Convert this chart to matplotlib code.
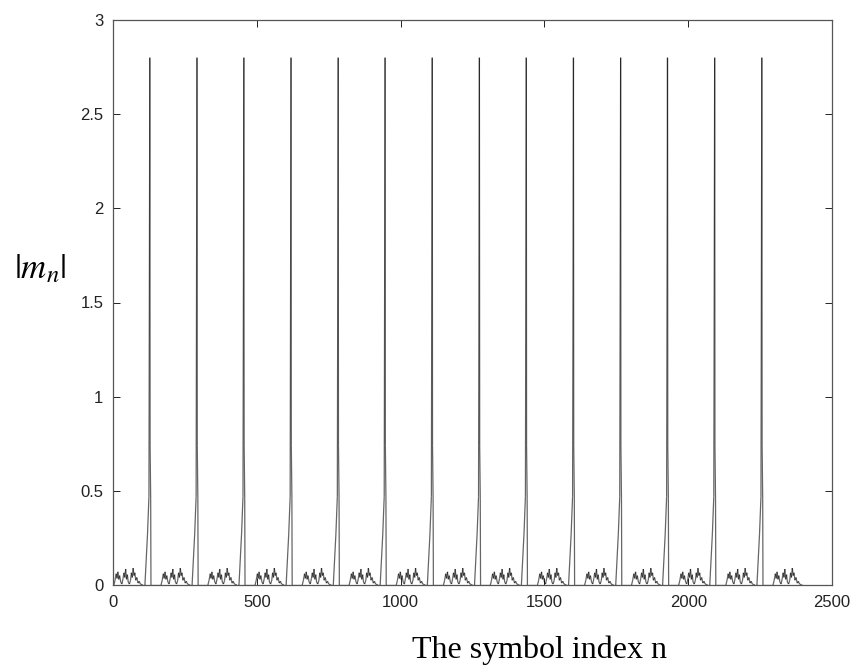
import numpy as np
import matplotlib
matplotlib.use("Agg")
import matplotlib.pyplot as plt
from matplotlib.collections import LineCollection

plt.rcParams["mathtext.fontset"] = "stix"

# start of each noise burst (symbol index)
cluster_starts = [3, 167, 330, 494, 658, 821, 985, 1149, 1312, 1476, 1640, 1803, 1967, 2131, 2295]
# shape of one noise burst: offset from start, |m_n|
burst_dn = [0, 4, 8, 11, 14, 17, 20, 24, 28, 32, 35, 38, 41, 44, 47, 50, 54, 58, 61, 64, 67, 70, 73, 76, 80, 84, 88, 92, 101]
burst_val = [0.0, 0.025, 0.06, 0.035, 0.07, 0.03, 0.05, 0.015, 0.005, 0.035, 0.065, 0.04, 0.085, 0.03, 0.055, 0.015,
             0.005, 0.025, 0.065, 0.04, 0.09, 0.05, 0.065, 0.025, 0.04, 0.01, 0.02, 0.005, 0.0]
# peak following each burst: offset from burst start, values (second peak value varies)
spike_dn = [108, 117, 122, 125, 125.5, 126, 128, 129]
spike_top = 2.8
spike_second = [2.35, 2.35, 1.70, 1.70, 1.70, 1.88, 1.88, 1.88, 1.88, 1.88, 2.35, 2.35, 2.35, 2.35]
spike_ramp = [0.0, 0.27, 0.47]
spike_tail = [0.74, 0.46, 0.0]
n_end = 2400

n, m = [0], [0.0]
for i, c in enumerate(cluster_starts):
    n += [c + d for d in burst_dn]
    m += burst_val
    if i < len(spike_second):
        n += [c + d for d in spike_dn]
        m += spike_ramp + [spike_top, spike_second[i]] + spike_tail
n.append(n_end); m.append(0.0)

fig = plt.figure(figsize=(8.51, 6.70), dpi=100)
ax = fig.add_axes([113/851, 1 - 585/670, 719/851, 565/670])

# draw each segment separately so retraced parts come out darker
pts = np.column_stack([n, m])
segs = np.stack([pts[:-1], pts[1:]], axis=1)
ax.add_collection(LineCollection(segs, colors="black", alpha=0.6, linewidths=0.9))

ax.set_xlim(0, 2500)
ax.set_ylim(0, 3)
ax.set_xticks([0, 500, 1000, 1500, 2000, 2500])
ax.set_xticklabels(["0", "500", "1000", "1500", "2000", "2500"])
ax.set_yticks([0, 0.5, 1, 1.5, 2, 2.5, 3])
ax.set_yticklabels(["0", "0.5", "1", "1.5", "2", "2.5", "3"])
ax.tick_params(direction="in", length=5, width=0.7, top=True, right=True,
               labelsize=12, colors="#222222", pad=7)
for s in ax.spines.values():
    s.set_linewidth(0.9)
    s.set_color("#555555")
for lab in ax.get_xticklabels() + ax.get_yticklabels():
    lab.set_family("Liberation Sans")

fig.text(540/851, 1 - 650/670, "The symbol index n", family="Liberation Serif",
         fontsize=23, ha="center", va="center")
fig.text(40/851, 1 - 268/670, r"$|m_n|$", fontsize=25, ha="center", va="center")

fig.savefig("out.png", dpi=100)
